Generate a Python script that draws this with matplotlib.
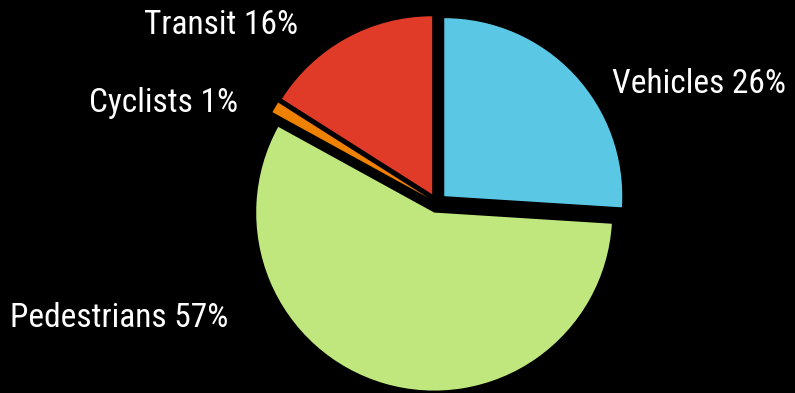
import matplotlib
matplotlib.use("Agg")
import matplotlib.pyplot as plt
from matplotlib import font_manager

# data
labels = ["Vehicles", "Pedestrians", "Cyclists", "Transit"]
shares = [26, 57, 1, 16]
colors = ["#5ac8e4", "#bfe77e", "#ee8100", "#e03a28"]

# label anchors in pixels (x, y from top, horizontal alignment)
label_pos = [(612, 84, "left"), (228, 318, "right"), (238, 103, "right"), (298, 25, "right")]

installed = {f.name for f in font_manager.fontManager.ttflist}
family = [f for f in ["Roboto Condensed", "Liberation Sans Narrow", "DejaVu Sans Condensed"] if f in installed]
family = family + ["DejaVu Sans"]
plt.rcParams["font.family"] = family

W, H = 795, 393
fig = plt.figure(figsize=(W / 100, H / 100), dpi=100, facecolor="black")
ax = fig.add_axes([0, 0, 1, 1])
ax.set_facecolor("black")

# pie centre and radius in pixels
cx, cy, r = 437, 203, 178
ax.pie(shares, colors=colors, startangle=90, counterclock=False,
       explode=[0.056] * len(shares), radius=1,
       wedgeprops=dict(linewidth=0))
ax.set_xlim(-cx / r, (W - cx) / r)
ax.set_ylim(-(H - cy) / r, cy / r)
ax.set_aspect("auto")
ax.axis("off")

for name, val, (px, py, ha) in zip(labels, shares, label_pos):
    fig.text(px / W, 1 - py / H, f"{name} {val}%", color="white",
             fontsize=24, ha=ha, va="center")

fig.savefig("out.png", dpi=100, facecolor="black")
